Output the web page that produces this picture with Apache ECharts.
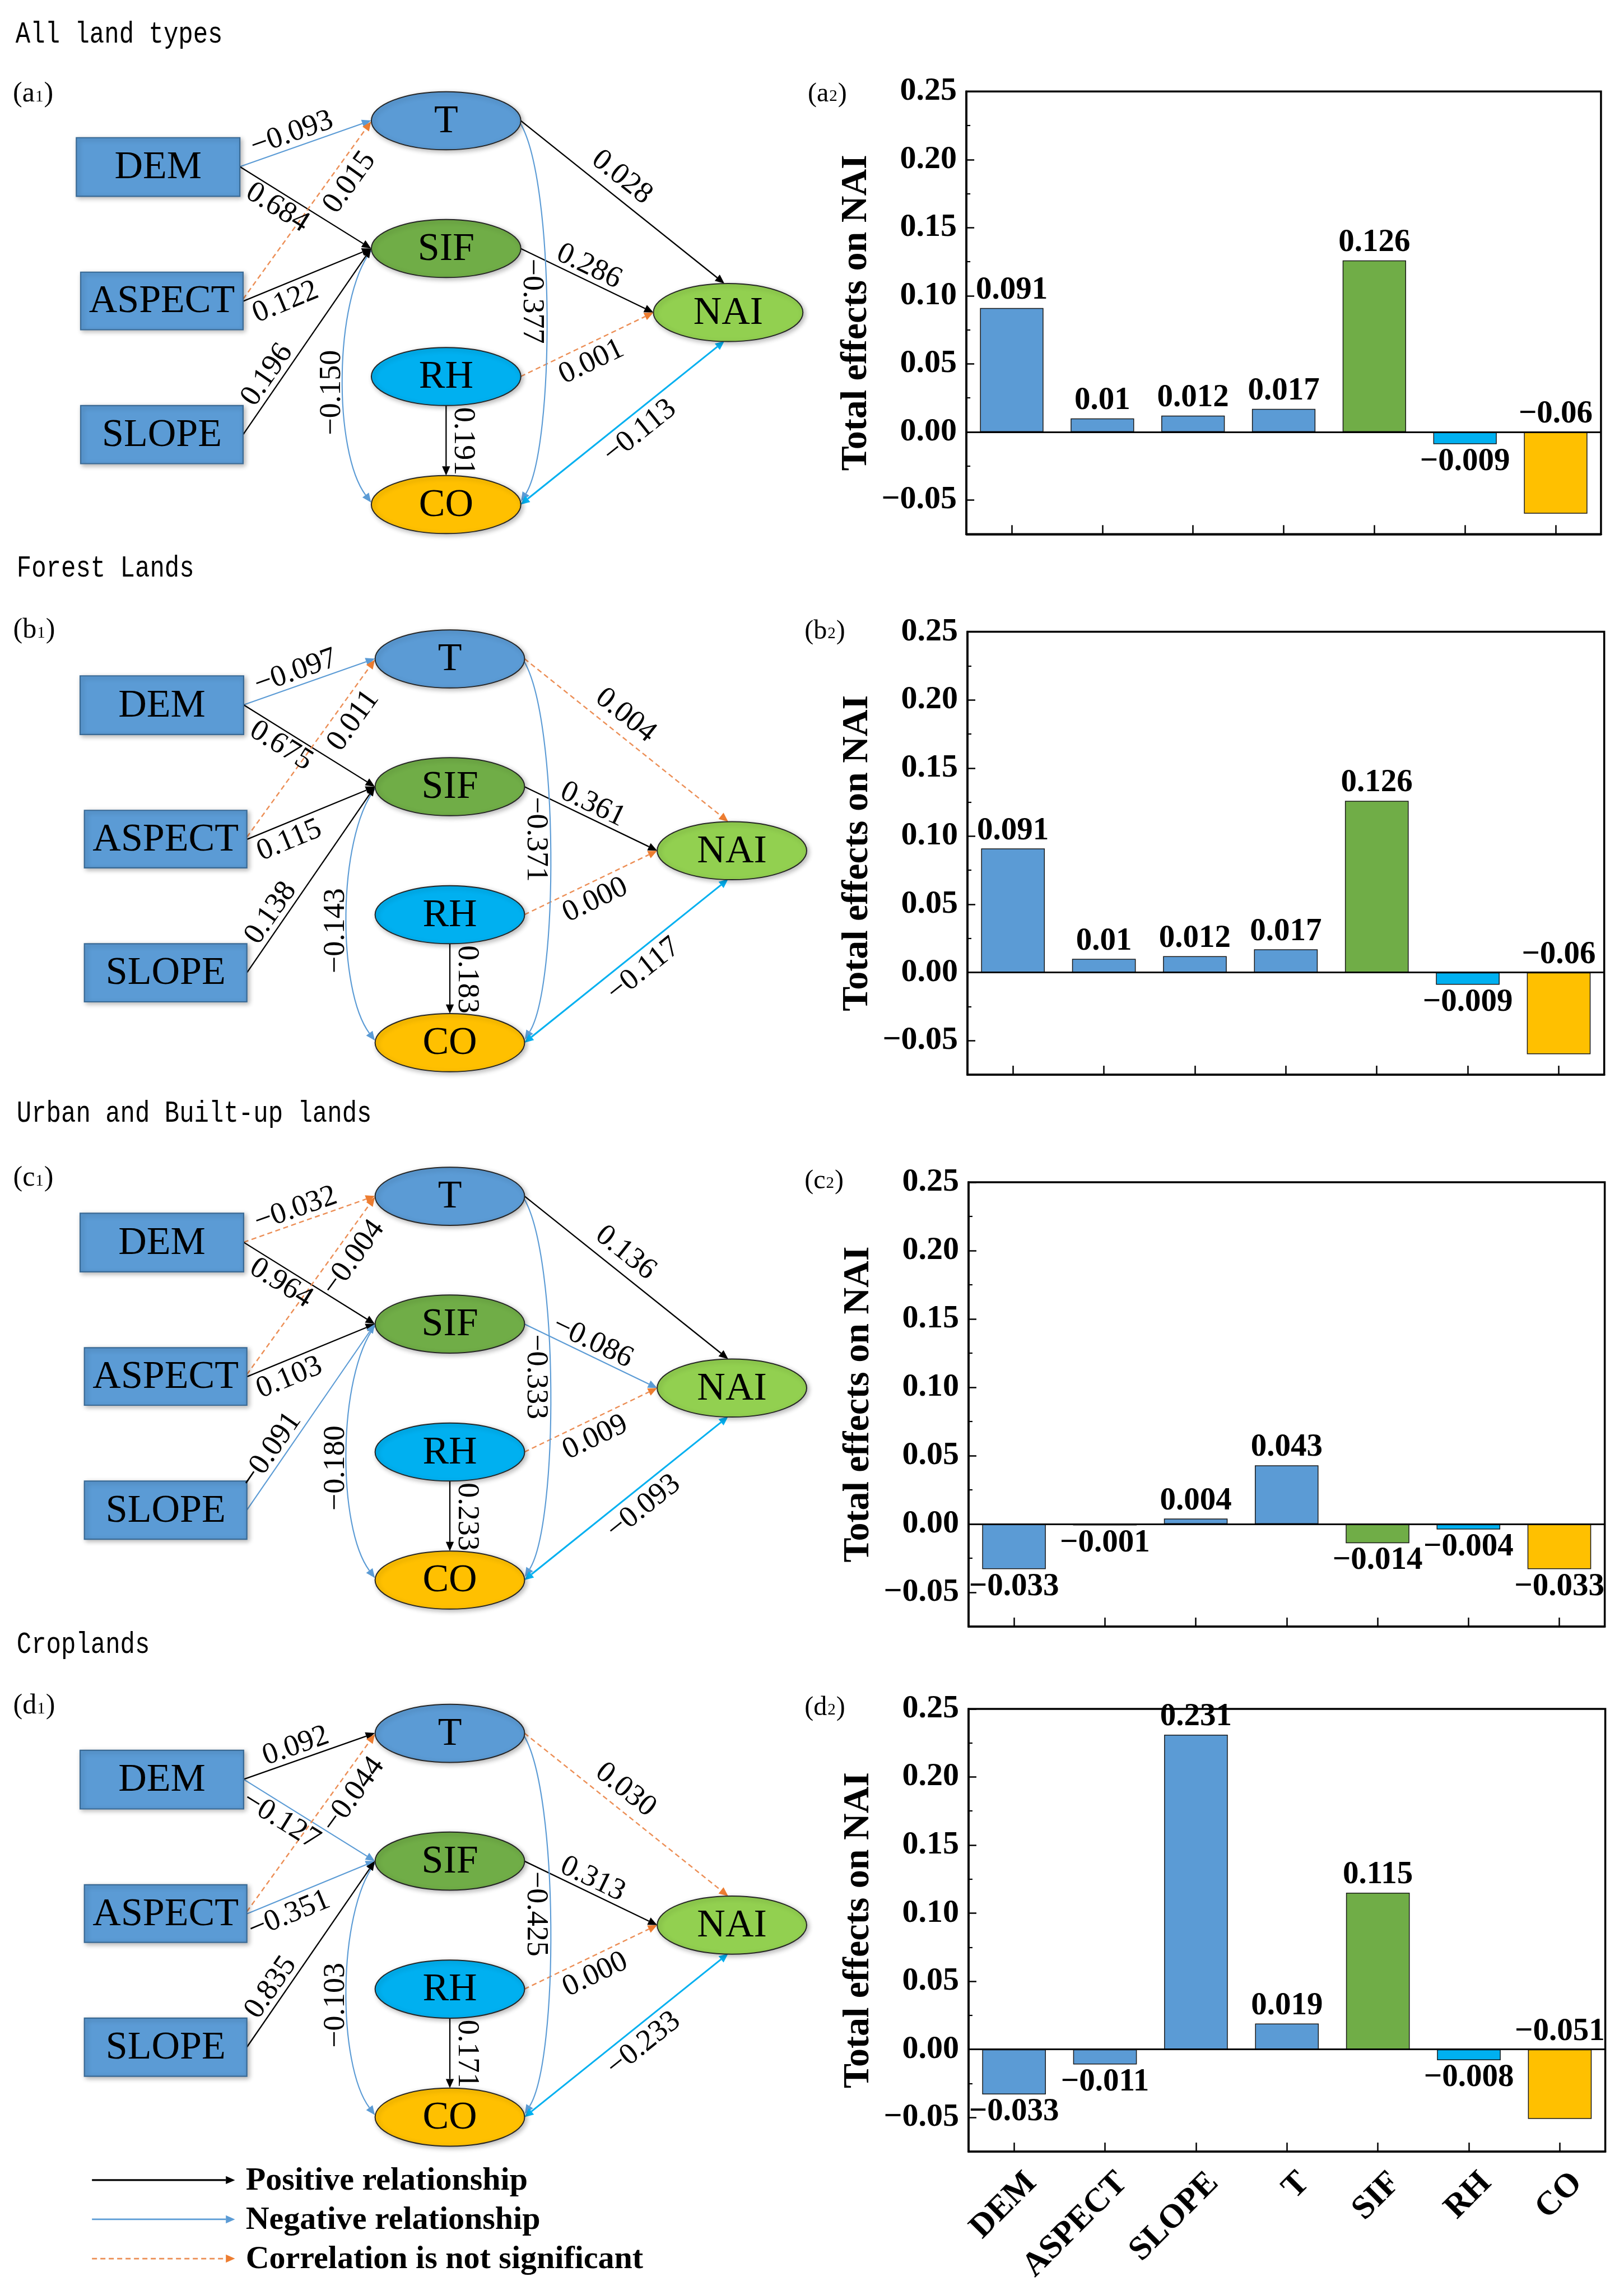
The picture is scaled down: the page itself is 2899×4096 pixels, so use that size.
<!DOCTYPE html>
<html><head><meta charset="utf-8">
<script src="https://cdn.jsdelivr.net/npm/echarts@6/dist/echarts.min.js"></script>
<style>html,body{margin:0;padding:0;background:#fff}#c{width:2899px;height:4096px}</style>
</head><body><div id="c"></div>
<script>
// ================= DATA =================
const categories = ['DEM', 'ASPECT', 'SLOPE', 'T', 'SIF', 'RH', 'CO'];
const panelTitles = ['All land types', 'Forest Lands', 'Urban and Built-up lands', 'Croplands'];
const panelLetters = ['a', 'b', 'c', 'd'];

// total effects on NAI (bar charts)
const totalAll    = [0.091, 0.01, 0.012, 0.017, 0.126, -0.009, -0.06];
const totalForest = [0.091, 0.01, 0.012, 0.017, 0.126, -0.009, -0.06];
const totalUrban  = [-0.033, -0.001, 0.004, 0.043, -0.014, -0.004, -0.033];
const totalCrop   = [-0.033, -0.011, 0.231, 0.019, 0.115, -0.008, -0.051];

// y-axis ticks
const yTickValues = [-0.05, 0, 0.05, 0.10, 0.15, 0.20, 0.25];
const yMinorTickValues = [-0.025, 0.025, 0.075, 0.125, 0.175, 0.225];

// path diagram edges
const edgeKeys = ['DEM>T', 'DEM>SIF', 'ASPECT>T', 'ASPECT>SIF', 'SLOPE>SIF', 'T>NAI', 'SIF>NAI', 'RH>NAI', 'RH>CO', 'SIF~CO', 'T~CO', 'CO~NAI'];
const pathAll    = [-0.093, 0.684, 0.015, 0.122, 0.196, 0.028, 0.286, 0.001, 0.191, -0.150, -0.377, -0.113];
const sigAll     = [1, 1, 0, 1, 1, 1, 1, 0, 1, 1, 1, 1];
const pathForest = [-0.097, 0.675, 0.011, 0.115, 0.138, 0.004, 0.361, 0.000, 0.183, -0.143, -0.371, -0.117];
const sigForest  = [1, 1, 0, 1, 1, 0, 1, 0, 1, 1, 1, 1];
const pathUrban  = [-0.032, 0.964, -0.004, 0.103, -0.091, 0.136, -0.086, 0.009, 0.233, -0.180, -0.333, -0.093];
const sigUrban   = [0, 1, 0, 1, 1, 1, 1, 0, 1, 1, 1, 1];
const pathCrop   = [0.092, -0.127, -0.044, -0.351, 0.835, 0.030, 0.313, 0.000, 0.171, -0.103, -0.425, -0.233];
const sigCrop    = [1, 1, 0, 1, 1, 0, 1, 0, 1, 1, 1, 1];

const legendLabels = ['Positive relationship', 'Negative relationship', 'Correlation is not significant'];

// ================= LAYOUT / STYLE =================
const K = 0.96;
const S = v => v * K;
const SERIF = '"Liberation Serif", "Times New Roman", serif';
const MONO = '"Liberation Mono", "DejaVu Sans Mono", monospace';

const totals = [totalAll, totalForest, totalUrban, totalCrop];
const paths = [pathAll, pathForest, pathUrban, pathCrop];
const sigs = [sigAll, sigForest, sigUrban, sigCrop];

const barColors = ['#5B9BD5', '#5B9BD5', '#5B9BD5', '#5B9BD5', '#70AD47', '#00B0F0', '#FFC000'];
const barLabelPos = [
  ['top', 'top', 'top', 'top', 'top', 'bottom', 'top'],
  ['top', 'top', 'top', 'top', 'top', 'bottom', 'top'],
  ['bottom', 'bottom', 'top', 'top', 'bottom', 'bottom', 'bottom'],
  ['bottom', 'bottom', 'top', 'top', 'top', 'bottom', 'top']
];

const panelOffsets = [{dx: 0, dy: 0}, {dx: 7, dy: 1000.5}, {dx: 7, dy: 1999.5}, {dx: 7, dy: 2998}];
const titlePos = [[29, 65], [31, 1057], [31, 2071], [31, 3058]];
const subPos1 = [[24, 175], [24.5, 1172], [24.5, 2191], [24.5, 3172]];
const subPos2 = [[1502, 175], [1496, 1174], [1496, 2196], [1496, 3175]];
const gridBoxes = [[1797, 170, 2977, 993], [1799, 1174.5, 2983, 1998], [1801, 2198, 2984, 3024], [1801, 3177, 2985, 4000]];

const nodeLayout = {
  DEM:    {kind: 'rect', cx: 294, cy: 310.5, w: 304, h: 109, fill: '#5B9BD5'},
  ASPECT: {kind: 'rect', cx: 301, cy: 559.5, w: 302, h: 107, fill: '#5B9BD5'},
  SLOPE:  {kind: 'rect', cx: 301, cy: 808, w: 302, h: 108, fill: '#5B9BD5'},
  T:      {kind: 'ellipse', cx: 829.5, cy: 224.5, rx: 139, ry: 54, fill: '#5B9BD5'},
  SIF:    {kind: 'ellipse', cx: 829.5, cy: 462, rx: 139, ry: 54, fill: '#70AD47'},
  RH:     {kind: 'ellipse', cx: 829.5, cy: 700, rx: 139, ry: 54, fill: '#00B0F0'},
  CO:     {kind: 'ellipse', cx: 829.5, cy: 938, rx: 139, ry: 54, fill: '#FFC000'},
  NAI:    {kind: 'ellipse', cx: 1354, cy: 581, rx: 139, ry: 54, fill: '#92D050'}
};

const edgeLayout = [
  {p0: [446, 310], p1: [690, 224], t: 0.433, d: 26},
  {p0: [446, 310], p1: [690, 462], t: 0.346, d: -28},
  {p0: [452, 556], p1: [690, 226], t: 0.717, d: -34},
  {p0: [452, 560], p1: [690, 462], t: 0.281, d: -32},
  {p0: [452, 808], p1: [690, 462], t: 0.278, d: 26},
  {p0: [968, 224], p1: [1347, 527], t: 0.439, d: 35},
  {p0: [968, 462], p1: [1215, 581], t: 0.471, d: 25},
  {p0: [968, 700], p1: [1215, 581], t: 0.476, d: -33},
  {p0: [829.5, 754], p1: [829.5, 884], t: 0.51, d: 31},
  {curve: [[690, 466], [620, 560], [620, 840], [690, 934]], label: [618, 730], angle: -90},
  {curve: [[968, 230], [1032, 340], [1032, 830], [969, 932]], label: [989, 560], angle: 90},
  {p0: [968, 938], p1: [1347, 634], t: 0.531, d: -33, both: true, cyan: true}
];

const styles = {
  pos:  {stroke: '#000000', head: '#000000', width: 2.3, dash: null},
  neg:  {stroke: '#5B9BD5', head: '#5B9BD5', width: 2.1, dash: null},
  ns:   {stroke: '#EC8E55', head: '#ED7D31', width: 2.4, dash: [9, 6]},
  cyan: {stroke: '#00B0F0', head: '#00B0F0', width: 3.0, dash: null}
};

// ================= HELPERS =================
const elements = [];
const fmt3 = v => (v < 0 ? '\u2212' : '') + Math.abs(v).toFixed(3);
const fmtBar = v => (v < 0 ? '\u2212' : '') + String(Math.abs(v));
const fmtTick = v => (v < -1e-9 ? '\u2212' : '') + Math.abs(v).toFixed(2);

function addText(x, y, text, o) {
  elements.push({
    type: 'text', x: S(x), y: S(y), rotation: o.rot || 0, scaleY: o.scaleY || 1, z: o.z || 20,
    style: {text: text, fontSize: o.size, fontFamily: o.family || SERIF, fontWeight: o.weight || 'normal',
      fill: '#000', align: o.align || 'center', verticalAlign: 'middle', rich: o.rich}
  });
}
function arrowHead(tip, dir, color, z) {
  const L = 17, W = 7.5;
  const len = Math.hypot(dir[0], dir[1]);
  const ux = dir[0] / len, uy = dir[1] / len;
  const bx = tip[0] - L * ux, by = tip[1] - L * uy;
  const nx = -uy, ny = ux;
  elements.push({type: 'polygon', z: z,
    shape: {points: [[S(tip[0]), S(tip[1])], [S(bx + W * nx), S(by + W * ny)], [S(bx - W * nx), S(by - W * ny)]]},
    style: {fill: color}});
  return [bx, by];
}

// ================= DIAGRAMS =================
const subRich = {s: {fontSize: 29, fontFamily: SERIF, verticalAlign: 'bottom', padding: [0, 1, 5, 1]}};
for (let p = 0; p < 4; p++) {
  const {dx, dy} = panelOffsets[p];
  const tr = pt => [pt[0] + dx, pt[1] + dy];

  addText(titlePos[p][0], titlePos[p][1], panelTitles[p], {size: 44, family: MONO, align: 'left', scaleY: 1.2});
  addText(subPos1[p][0], subPos1[p][1], '(' + panelLetters[p] + '{s|1})', {size: 50, align: 'left', rich: subRich});
  addText(subPos2[p][0], subPos2[p][1], '(' + panelLetters[p] + '{s|2})', {size: 48, align: 'left', rich: subRich});

  // edges
  edgeKeys.forEach((key, i) => {
    const v = paths[p][i];
    const lay = edgeLayout[i];
    let st = !sigs[p][i] ? styles.ns : (lay.cyan ? styles.cyan : (v > 0 ? styles.pos : styles.neg));
    const lineStyle = {stroke: st.stroke, lineWidth: st.width, lineDash: st.dash, fill: null};
    if (lay.curve) {
      const c = lay.curve.map(tr);
      const base = arrowHead(c[3], [c[3][0] - c[2][0], c[3][1] - c[2][1]], st.head, 6);
      elements.push({type: 'bezierCurve', z: 5, shape: {x1: S(c[0][0]), y1: S(c[0][1]), cpx1: S(c[1][0]), cpy1: S(c[1][1]),
        cpx2: S(c[2][0]), cpy2: S(c[2][1]), x2: S(base[0]), y2: S(base[1])}, style: lineStyle});
      const lp = tr(lay.label);
      addText(lp[0], lp[1], fmt3(v), {size: 54, rot: -lay.angle * Math.PI / 180});
    } else {
      const a = tr(lay.p0), b = tr(lay.p1);
      const ddx = b[0] - a[0], ddy = b[1] - a[1];
      const len = Math.hypot(ddx, ddy);
      let start = a;
      if (lay.both) start = arrowHead(a, [-ddx, -ddy], st.head, 6);
      const end = arrowHead(b, [ddx, ddy], st.head, 6);
      elements.push({type: 'line', z: 5, shape: {x1: S(start[0]), y1: S(start[1]), x2: S(end[0]), y2: S(end[1])}, style: lineStyle});
      const nx = ddy / len, ny = -ddx / len;
      const lx = a[0] + lay.t * ddx + lay.d * nx, ly = a[1] + lay.t * ddy + lay.d * ny;
      addText(lx, ly, fmt3(v), {size: 54, rot: -Math.atan2(ddy, ddx)});
    }
  });

  // nodes
  Object.keys(nodeLayout).forEach(name => {
    const n = nodeLayout[name];
    const c = tr([n.cx, n.cy]);
    const shadow = {shadowBlur: 8, shadowOffsetX: 3, shadowOffsetY: 3, shadowColor: 'rgba(0,0,0,0.28)'};
    if (n.kind === 'rect') {
      elements.push({type: 'rect', z: 8, shape: {x: S(c[0] - n.w / 2), y: S(c[1] - n.h / 2), width: S(n.w), height: S(n.h)},
        style: Object.assign({fill: n.fill, stroke: '#3A6A95', lineWidth: 2.2}, shadow)});
    } else {
      elements.push({type: 'ellipse', z: 8, shape: {cx: S(c[0]), cy: S(c[1]), rx: S(n.rx), ry: S(n.ry)},
        style: Object.assign({fill: n.fill, stroke: '#262626', lineWidth: 2}, shadow)});
    }
    addText(c[0], c[1] + 2, name, {size: 70, z: 9});
  });
}

// ================= LEGEND =================
const legendStyles = [styles.pos, styles.neg, styles.ns];
const legendY = [4053, 4126, 4199];
legendLabels.forEach((lab, i) => {
  const st = legendStyles[i];
  const base = arrowHead([437, legendY[i]], [1, 0], st.head, 6);
  elements.push({type: 'line', z: 5, shape: {x1: S(171), y1: S(legendY[i]), x2: S(base[0]), y2: S(legendY[i])},
    style: {stroke: st.stroke, lineWidth: i === 0 ? 3.2 : 2.8, lineDash: st.dash}});
  addText(457, legendY[i] + 2, lab, {size: 58, weight: 'bold', align: 'left'});
});

// ================= BAR CHARTS =================
const grids = [], xAxes = [], yAxes = [], series = [];
for (let i = 0; i < 4; i++) {
  const [l, t, r, b] = gridBoxes[i];
  grids.push({left: S(l), top: S(t), width: S(r - l), height: S(b - t), containLabel: false,
    show: true, borderColor: '#000', borderWidth: 3.5, backgroundColor: 'transparent'});
  xAxes.push({type: 'category', gridIndex: i, data: categories, boundaryGap: true,
    axisLine: {show: true, onZero: false, lineStyle: {color: '#000', width: 3.5}},
    axisTick: {show: true, inside: true, alignWithLabel: true, length: 16, lineStyle: {color: '#000', width: 2.5}},
    axisLabel: {show: i === 3, rotate: 45, margin: 16, formatter: v => '\n' + v, lineHeight: 88,
      fontFamily: SERIF, fontWeight: 'bold', fontSize: 60, color: '#000', interval: 0},
    splitLine: {show: false}});
  yAxes.push({type: 'value', gridIndex: i, min: -0.075, max: 0.25, position: 'left',
    axisLine: {show: true, onZero: false, lineStyle: {color: '#000', width: 3.5}},
    axisTick: {show: true, inside: true, length: 14, customValues: yTickValues, lineStyle: {color: '#000', width: 2.5}},
    axisLabel: {show: true, customValues: yTickValues, formatter: fmtTick, margin: 17,
      fontFamily: SERIF, fontWeight: 'bold', fontSize: 58, color: '#000'},
    splitLine: {show: false},
    name: 'Total effects on NAI', nameLocation: 'middle', nameGap: 163, nameRotate: 90,
    nameTextStyle: {fontFamily: SERIF, fontWeight: 'bold', fontSize: 66, color: '#000'}});
  yAxes.push({type: 'value', gridIndex: i, min: -0.075, max: 0.25, position: 'left',
    axisLine: {show: false},
    axisTick: {show: true, inside: true, length: 7, customValues: yMinorTickValues, lineStyle: {color: '#000', width: 2.2}},
    axisLabel: {show: false}, splitLine: {show: false}});
  series.push({type: 'bar', xAxisIndex: i, yAxisIndex: 2 * i, barWidth: '70%',
    data: totals[i].map((v, j) => ({value: v, itemStyle: {color: barColors[j]}, label: {position: barLabelPos[i][j]}})),
    itemStyle: {borderColor: '#1a1a1a', borderWidth: 1.5},
    label: {show: true, distance: 3, formatter: pp => fmtBar(pp.value),
      fontFamily: SERIF, fontWeight: 'bold', fontSize: 57, color: '#000'},
    markLine: {silent: true, symbol: 'none', label: {show: false}, lineStyle: {color: '#000', width: 3, type: 'solid'},
      data: [{yAxis: 0}]},
    animation: false});
}

const chart = echarts.init(document.getElementById('c'), null, {renderer: 'canvas', width: 2899, height: 4096});
chart.setOption({
  backgroundColor: '#ffffff',
  animation: false,
  grid: grids, xAxis: xAxes, yAxis: yAxes, series: series,
  graphic: {elements: elements}
});
</script></body></html>
